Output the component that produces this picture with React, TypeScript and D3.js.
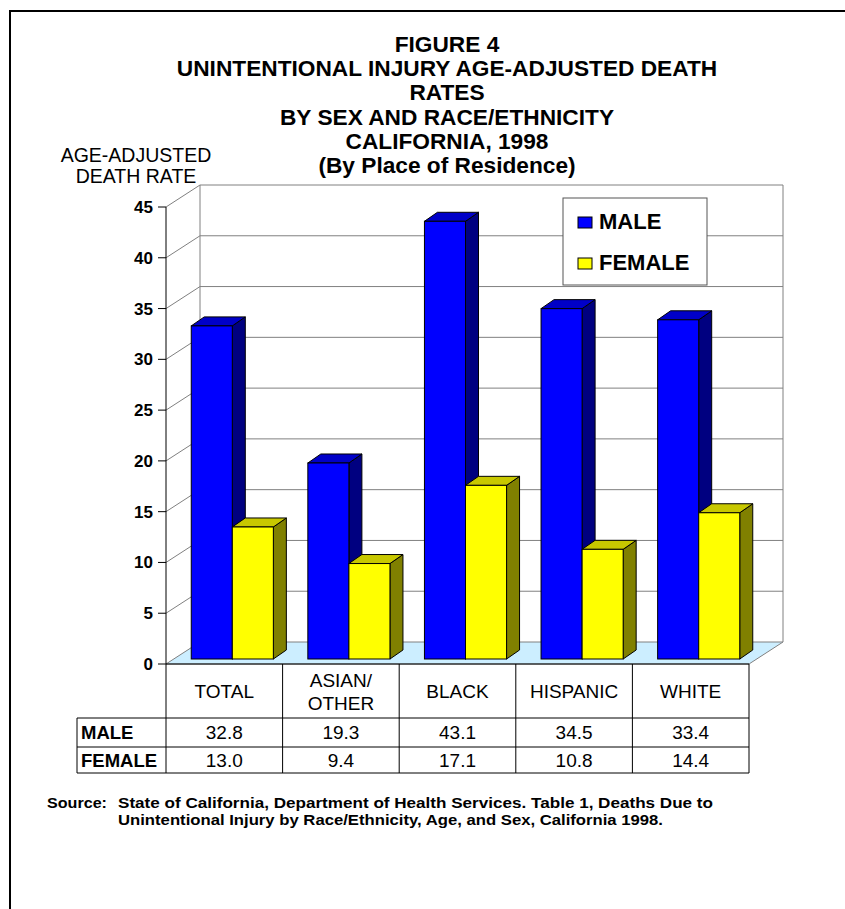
import * as React from 'react';
import * as d3 from 'd3';

const categories = ['TOTAL', 'ASIAN/OTHER', 'BLACK', 'HISPANIC', 'WHITE'];
const categoryLines = [['TOTAL'], ['ASIAN/', 'OTHER'], ['BLACK'], ['HISPANIC'], ['WHITE']];
const series = ['MALE', 'FEMALE'];
const maleRates = [32.8, 19.3, 43.1, 34.5, 33.4];
const femaleRates = [13.0, 9.4, 17.1, 10.8, 14.4];
const yTicks = [0, 5, 10, 15, 20, 25, 30, 35, 40, 45];

const titleLines = [
	'FIGURE 4',
	'UNINTENTIONAL INJURY AGE-ADJUSTED DEATH',
	'RATES',
	'BY SEX AND RACE/ETHNICITY',
	'CALIFORNIA, 1998',
	'(By Place of Residence)'
];
const sourceLabel = 'Source:';
const sourceLines = [
	'State of California, Department of Health Services.  Table 1, Deaths Due to',
	'Unintentional Injury by Race/Ethnicity, Age, and Sex, California 1998.'
];

const colors = {
	MALE: {front: '#0000ff', side: '#000080', top: '#0000c8'},
	FEMALE: {front: '#ffff00', side: '#808000', top: '#c8c800'}
};

const FONT = 'Liberation Sans, Arial, Helvetica, sans-serif';

// depth of the 3d box and of the bars inside it
const DX = 34, DY = -22;
const FX = 8, FY = -5;
const BX = 13, BY = -9;

const draw = (svgNode) => {
	const svg = d3.select(svgNode);
	svg.html('');

	const x = d3.scaleBand().domain(categories).range([166, 749]);
	const y = d3.scaleLinear().domain([0, 45]).range([664, 207]);
	const inner = d3.scaleBand().domain(series).range([0, x.bandwidth()]).paddingOuter(0.42);

	// page frame
	svg.append('path')
		.attr('d', 'M10,930V11H850')
		.attr('fill', 'none')
		.attr('stroke', '#000')
		.attr('stroke-width', 2);

	// title
	svg.append('g')
		.selectAll('text')
		.data(titleLines)
		.enter().append('text')
		.attr('x', 447)
		.attr('y', (d, i) => 52 + i * 24.2)
		.attr('text-anchor', 'middle')
		.style('font', `bold 22.7px ${FONT}`)
		.text(d => d);

	svg.append('g')
		.selectAll('text')
		.data(['AGE-ADJUSTED', 'DEATH RATE'])
		.enter().append('text')
		.attr('x', 136)
		.attr('y', (d, i) => 162 + i * 21)
		.attr('text-anchor', 'middle')
		.style('font', `19.5px ${FONT}`)
		.text(d => d);

	const x0 = x.range()[0], x1 = x.range()[1];
	const y0 = y(0);

	// back wall + floor
	svg.append('rect')
		.attr('x', x0 + DX).attr('y', y(45) + DY)
		.attr('width', x1 - x0).attr('height', y0 - y(45))
		.attr('fill', '#fff');
	svg.append('path')
		.attr('d', `M${x0},${y0}L${x1},${y0}L${x1 + DX},${y0 + DY}L${x0 + DX},${y0 + DY}Z`)
		.attr('fill', '#cceeff')
		.attr('stroke', '#808080');

	const grid = svg.append('g').attr('stroke', '#808080').attr('fill', 'none');
	yTicks.filter(t => t > 0).forEach(t => {
		grid.append('path')
			.attr('d', `M${x0},${y(t)}L${x0 + DX},${y(t) + DY}H${x1 + DX}`);
	});
	grid.append('path')
		.attr('d', `M${x0 + DX},${y0 + DY}V${y(45) + DY}M${x1 + DX},${y0 + DY}V${y(45) + DY}`);

	// axis
	const axis = svg.append('g');
	axis.append('path')
		.attr('d', `M${x0},${y(45)}V${y0}`)
		.attr('stroke', '#000');
	axis.selectAll('.tick')
		.data(yTicks)
		.enter().append('path')
		.attr('d', d => `M${x0 - 8},${y(d)}H${x0}`)
		.attr('stroke', '#000');
	axis.selectAll('text')
		.data(yTicks)
		.enter().append('text')
		.attr('x', x0 - 13)
		.attr('y', d => y(d) + 6)
		.attr('text-anchor', 'end')
		.style('font', `bold 17px ${FONT}`)
		.text(d => d);

	// bars
	const bars = svg.append('g').attr('stroke', '#000').attr('stroke-width', 1);
	categories.forEach((c, i) => {
		[maleRates[i], femaleRates[i]].forEach((v, j) => {
			const s = series[j];
			const left = x(c) + inner(s) + FX;
			const w = inner.bandwidth();
			const top = y(v) + FY;
			const bottom = y(0) + FY;
			bars.append('path')
				.attr('d', `M${left + w},${top}L${left + w + BX},${top + BY}V${bottom + BY}L${left + w},${bottom}Z`)
				.attr('fill', colors[s].side);
			bars.append('path')
				.attr('d', `M${left},${top}L${left + BX},${top + BY}H${left + w + BX}L${left + w},${top}Z`)
				.attr('fill', colors[s].top);
			bars.append('rect')
				.attr('x', left).attr('y', top)
				.attr('width', w).attr('height', bottom - top)
				.attr('fill', colors[s].front);
		});
	});

	// legend
	const legend = svg.append('g');
	legend.append('rect')
		.attr('x', 563).attr('y', 198).attr('width', 144).attr('height', 87)
		.attr('fill', '#fff').attr('stroke', '#555');
	series.forEach((s, i) => {
		legend.append('rect')
			.attr('x', 578).attr('y', 217 + i * 41).attr('width', 14).attr('height', 11)
			.attr('fill', colors[s].front).attr('stroke', '#000');
		legend.append('text')
			.attr('x', 599).attr('y', 229 + i * 41)
			.style('font', `bold 22px ${FONT}`)
			.text(s);
	});

	// data table
	const table = svg.append('g').attr('stroke', '#000').attr('fill', 'none');
	const rowTop = 718, rowMid = 747, rowBot = 773, labelLeft = 77;
	table.append('path')
		.attr('d', `M${x0},${y0}H${x1}M${labelLeft},${rowTop}H${x1}M${labelLeft},${rowMid}H${x1}M${labelLeft},${rowBot}H${x1}M${labelLeft},${rowTop}V${rowBot}`);
	table.selectAll('.v')
		.data(categories.map(c => x(c)).concat([x1]))
		.enter().append('path')
		.attr('d', d => `M${d},${y0}V${rowBot}`);

	const labels = svg.append('g').style('font', `19px ${FONT}`).attr('text-anchor', 'middle');
	categories.forEach((c, i) => {
		const lines = categoryLines[i];
		lines.forEach((l, k) => {
			labels.append('text')
				.attr('x', x(c) + x.bandwidth() / 2)
				.attr('y', 698 + (k - (lines.length - 1) / 2) * 23)
				.text(l);
		});
		labels.append('text')
			.attr('x', x(c) + x.bandwidth() / 2)
			.attr('y', rowTop + 21)
			.text(maleRates[i].toFixed(1));
		labels.append('text')
			.attr('x', x(c) + x.bandwidth() / 2)
			.attr('y', rowMid + 20)
			.text(femaleRates[i].toFixed(1));
	});
	series.forEach((s, i) => {
		svg.append('text')
			.attr('x', 81)
			.attr('y', (i === 0 ? rowTop + 21 : rowMid + 20))
			.style('font', `bold 18.5px ${FONT}`)
			.text(s);
	});

	// source note, squeezed to look like a narrow face
	const src = svg.append('g')
		.style('font', `bold 15.5px ${FONT}`)
		.style('white-space', 'pre');
	src.append('text')
		.attr('x', 47).attr('y', 808)
		.attr('textLength', 60)
		.attr('lengthAdjust', 'spacingAndGlyphs')
		.text(sourceLabel);
	src.selectAll('.line')
		.data(sourceLines)
		.enter().append('text')
		.attr('x', 118)
		.attr('y', (d, i) => 808 + i * 17)
		.attr('textLength', (d, i) => (i === 0 ? 595 : 545))
		.attr('lengthAdjust', 'spacingAndGlyphs')
		.text(d => d);
};

const App = () => {
	const ref = React.useRef(null);
	React.useEffect(() => {
		draw(ref.current);
	}, []);
	return (
		<svg
			ref={ref}
			width={845}
			height={909}
			style={{position: 'absolute', left: 0, top: 0, background: '#fff'}}
		/>
	);
};

export default App;
